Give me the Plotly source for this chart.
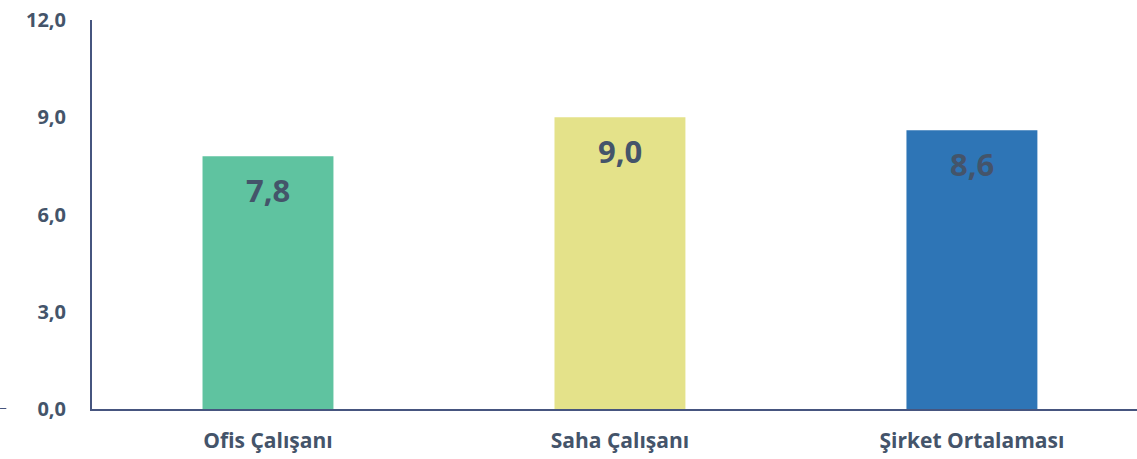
import plotly.graph_objects as go

categories = ["Ofis Çalışanı", "Saha Çalışanı", "Şirket Ortalaması"]
values = [7.8, 9.0, 8.6]
colors = ["#5FC3A0", "#E4E28A", "#2E75B6"]
y_ticks = [0, 3, 6, 9, 12]
y_tick_labels = ["0,0", "3,0", "6,0", "9,0", "12,0"]

text_color = "#44546A"
axis_color = "#46557F"
font_family = "Open Sans, DejaVu Sans, sans-serif"

fig = go.Figure()
fig.add_trace(go.Bar(
    x=list(range(len(categories))),
    y=values,
    marker=dict(color=colors, line=dict(width=0)),
    width=0.372,
    hoverinfo="skip",
))

for i, v in enumerate(values):
    fig.add_annotation(
        x=i, y=v, xref="x", yref="y",
        text=f"{v:.1f}".replace(".", ","),
        showarrow=False, yshift=-34,
        font=dict(family=font_family, size=31, color=text_color, weight="bold"),
    )

fig.add_shape(type="line", xref="paper", yref="y",
              x0=-0.088, x1=-0.082, y0=0, y1=0,
              line=dict(color=axis_color, width=2))

fig.update_layout(
    width=1137, height=459,
    margin=dict(l=92, r=0, t=20, b=50),
    paper_bgcolor="white", plot_bgcolor="white",
    showlegend=False,
    font=dict(family=font_family, color=text_color),
    xaxis=dict(
        range=[-0.5, 2.469],
        tickmode="array",
        tickvals=list(range(len(categories))),
        ticktext=categories,
        showline=True, linecolor=axis_color, linewidth=2,
        showgrid=False, zeroline=False, ticks="",
        tickfont=dict(family=font_family, size=21, color=text_color, weight="bold"),
        ticklabelstandoff=12,
    ),
    yaxis=dict(
        range=[0, 12],
        tickmode="array",
        tickvals=y_ticks,
        ticktext=y_tick_labels,
        showline=True, linecolor=axis_color, linewidth=2,
        showgrid=False, zeroline=False, ticks="",
        tickfont=dict(family=font_family, size=20, color=text_color, weight="bold"),
        ticklabelstandoff=20,
    ),
)

fig.write_html("out.html",
               config={"displayModeBar": False},
               post_script="document.body.style.margin='0';document.body.style.overflow='hidden';")
